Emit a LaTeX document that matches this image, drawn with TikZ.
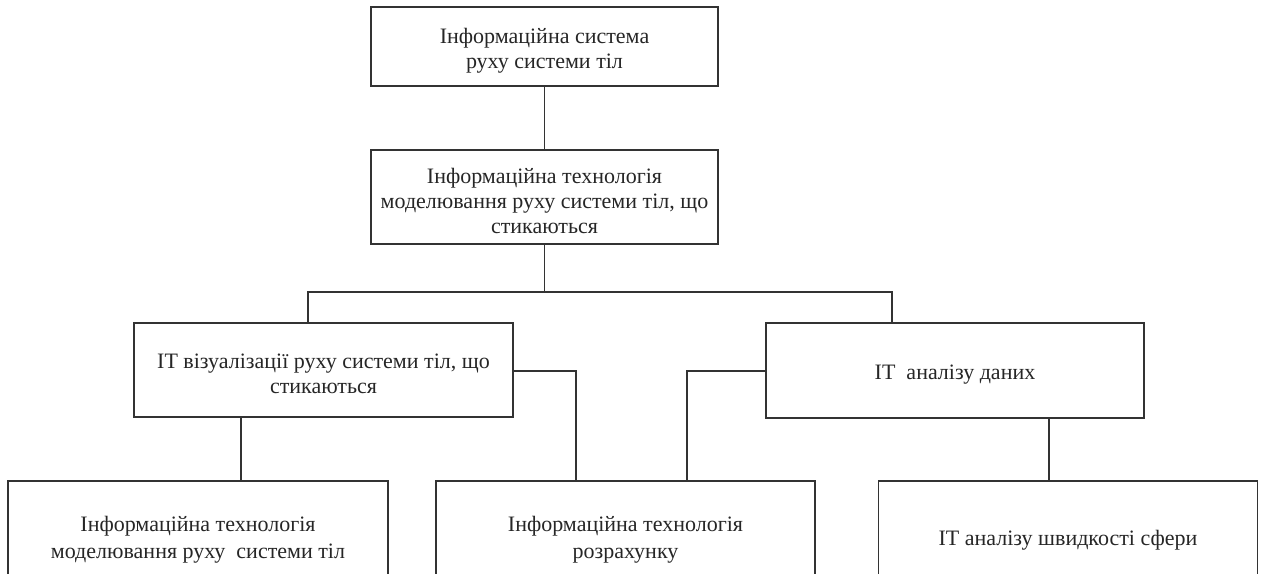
\documentclass[tikz,border=0pt]{standalone}
\usepackage{fontspec}
\setmainfont{Liberation Serif}
\newfontfamily\boxfont{Liberation Serif}
\newcommand\topstrut{\rule{0pt}{23pt}}
\begin{document}
\begin{tikzpicture}[x=1pt,y=-1pt,
  box/.style={draw=black!80, line width=1.5pt, align=center, inner sep=0pt,
    font=\boxfont\fontsize{22}{25}\selectfont, text=black!85},
  conn/.style={draw=black!80, line width=1.5pt}]
\useasboundingbox (0,0) rectangle (1263,573);
% boxes
\node[box, minimum width=347, minimum height=79] (n1) at (544.5,46.5)
  {\topstrut Інформаційна система\\руху системи тіл};
\node[box, minimum width=347, minimum height=94] (n2) at (544.5,197)
  {\topstrut Інформаційна технологія\\моделювання руху системи тіл, що\\стикаються};
\node[box, minimum width=379, minimum height=94] (l1) at (323.5,370)
  {\topstrut ІТ візуалізації руху системи тіл, що\\стикаються};
\node[box, minimum width=378, minimum height=95] (r1) at (955,370.5)
  {\topstrut ІТ\ \ аналізу даних};
\node[box, minimum width=380, minimum height=110, font=\boxfont\fontsize{22}{27}\selectfont] (b1) at (198,536)
  {\topstrut Інформаційна технологія\\моделювання руху\ \ системи тіл};
\node[box, minimum width=379, minimum height=110, font=\boxfont\fontsize{22}{27}\selectfont] (b2) at (625.5,536)
  {\topstrut Інформаційна технологія\\розрахунку};
\node[box, minimum width=379, minimum height=110] (b3) at (1068,536)
  {\topstrut ІТ аналізу швидкості сфери};
% connector coordinates
\coordinate (jl) at (308,292);
\coordinate (jr) at (892,292);
\coordinate (ca) at (576,371);
\coordinate (cb) at (687,371);
\coordinate (cl) at (241,0);
\coordinate (cr) at (1049,0);
% connectors
\draw[conn] (n1.south) -- (n2.north);
\draw[conn] (n2.south) -- (n2.south |- jl);
\draw[conn] (l1.north -| jl) -- (jl) -- (jr) -- (r1.north -| jr);
\draw[conn] (l1.east |- ca) -- (ca) -- (b2.north -| ca);
\draw[conn] (r1.west |- cb) -- (cb) -- (b2.north -| cb);
\draw[conn] (l1.south -| cl) -- (b1.north -| cl);
\draw[conn] (r1.south -| cr) -- (b3.north -| cr);
\end{tikzpicture}
\end{document}
